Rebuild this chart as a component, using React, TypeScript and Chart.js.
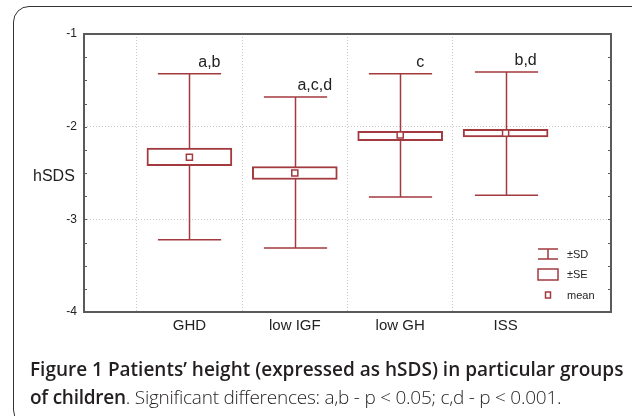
import React, { useEffect, useRef } from "react";
import { Chart, registerables } from "chart.js";

Chart.register(...registerables);

const categories = ["GHD", "low IGF", "low GH", "ISS"];
const means = [-2.33, -2.5, -2.09, -2.07];
const seLow = [-2.42, -2.57, -2.15, -2.11];
const seHigh = [-2.23, -2.43, -2.05, -2.03];
const sdLow = [-3.22, -3.31, -2.76, -2.74];
const sdHigh = [-1.43, -1.68, -1.43, -1.41];
const sigLabels = ["a,b", "a,c,d", "c", "b,d"];
const yTicks = [-1, -2, -3, -4];
const legendLabels = ["±SD", "±SE", "mean"];

const RED = "#A33A3F";
const FRAME = "#5a5a5a";
const FONT = "'Liberation Sans', Arial, sans-serif";

const boxPlugin = {
  id: "boxPlugin",
  beforeDatasetsDraw(chart: any) {
    const { ctx, scales } = chart;
    const xs = scales.x;
    const ys = scales.y;
    const capHalf = xs.getPixelForValue(1.3) - xs.getPixelForValue(1);
    ctx.save();
    ctx.strokeStyle = RED;
    ctx.lineWidth = 1.5;
    categories.forEach((_, i) => {
      const x = Math.round(xs.getPixelForValue(i + 1)) + 0.5;
      const yt = ys.getPixelForValue(sdHigh[i]);
      const yb = ys.getPixelForValue(sdLow[i]);
      ctx.beginPath();
      ctx.moveTo(x, yt);
      ctx.lineTo(x, yb);
      ctx.moveTo(x - capHalf, yt);
      ctx.lineTo(x + capHalf, yt);
      ctx.moveTo(x - capHalf, yb);
      ctx.lineTo(x + capHalf, yb);
      ctx.stroke();
    });
    ctx.restore();
  },
  afterDatasetsDraw(chart: any) {
    const { ctx, scales, chartArea } = chart;
    const xs = scales.x;
    const ys = scales.y;
    ctx.save();
    // annotation labels
    ctx.fillStyle = "#222";
    ctx.font = `16px ${FONT}`;
    ctx.textAlign = "center";
    ctx.textBaseline = "middle";
    sigLabels.forEach((t, i) => {
      const x = xs.getPixelForValue(i + 1) + 20;
      const y = ys.getPixelForValue(sdHigh[i]) - 11;
      ctx.fillText(t, x, y);
    });
    // frame
    ctx.strokeStyle = FRAME;
    ctx.lineWidth = 2;
    ctx.strokeRect(chartArea.left, chartArea.top, chartArea.right - chartArea.left, chartArea.bottom - chartArea.top);
    // minor ticks
    ctx.lineWidth = 1;
    for (let v = -4; v <= -1.001; v += 0.25) {
      const y = Math.round(ys.getPixelForValue(v)) + 0.5;
      ctx.beginPath();
      ctx.moveTo(chartArea.left, y);
      ctx.lineTo(chartArea.left + 3, y);
      ctx.moveTo(chartArea.right, y);
      ctx.lineTo(chartArea.right - 3, y);
      ctx.stroke();
    }
    // legend
    const lx = chartArea.right - 73;
    const ly = chartArea.bottom - 58;
    ctx.strokeStyle = RED;
    ctx.lineWidth = 1.5;
    ctx.beginPath();
    ctx.moveTo(lx, ly - 5);
    ctx.lineTo(lx + 20, ly - 5);
    ctx.moveTo(lx, ly + 5);
    ctx.lineTo(lx + 20, ly + 5);
    ctx.moveTo(lx + 10, ly - 5);
    ctx.lineTo(lx + 10, ly + 5);
    ctx.stroke();
    ctx.strokeRect(lx, ly + 15, 20, 11);
    ctx.fillStyle = "#fff";
    ctx.fillRect(lx + 7.5, ly + 38, 5, 6);
    ctx.strokeRect(lx + 7.5, ly + 38, 5, 6);
    ctx.fillStyle = "#222";
    ctx.font = `11px ${FONT}`;
    ctx.textAlign = "left";
    ctx.textBaseline = "middle";
    ctx.fillText(legendLabels[0], lx + 29, ly + 1);
    ctx.fillText(legendLabels[1], lx + 29, ly + 21);
    ctx.fillText(legendLabels[2], lx + 29, ly + 42);
    ctx.restore();
  },
};

export default function App() {
  const ref = useRef<HTMLCanvasElement>(null);
  useEffect(() => {
    if (!ref.current) return;
    const chart = new Chart(ref.current, {
      type: "bar",
      data: {
        datasets: [
          {
            type: "scatter",
            data: categories.map((_, i) => ({ x: i + 1, y: means[i] })),
            pointStyle: "rect",
            pointRadius: 4.3,
            pointBorderWidth: 1.5,
            pointBackgroundColor: "#fff",
            pointBorderColor: RED,
            order: 0,
          } as any,
          {
            type: "bar",
            data: categories.map((_, i) => ({ x: i + 1, y: [seLow[i], seHigh[i]] })),
            backgroundColor: "#fff",
            borderColor: RED,
            borderWidth: 2,
            borderSkipped: false,
            barThickness: 85,
            grouped: false,
            order: 1,
          } as any,
        ],
      },
      options: {
        responsive: false,
        animation: false,
        events: [],
        layout: { padding: { top: 34, right: 21, left: 0, bottom: 0 } },
        plugins: { legend: { display: false }, tooltip: { enabled: false } },
        scales: {
          x: {
            type: "linear",
            min: 0,
            max: 5,
            offset: false,
            afterFit: (s: any) => {
              s.height = 104;
            },
            afterBuildTicks: (s: any) => {
              s.ticks = [0, 1, 2, 3, 4, 5].map((v) => ({ value: v }));
            },
            ticks: {
              padding: 5,
              color: "#222",
              font: { family: FONT, size: 15 },
              callback: (v: any) => categories[Number(v) - 1] ?? "",
              maxRotation: 0,
              autoSkip: false,
            },
            grid: {
              drawTicks: false,
              color: (c: any) => (c.tick && (c.tick.value === 0 || c.tick.value === 5) ? "rgba(0,0,0,0)" : "#c8c8c8"),
              lineWidth: 1,
            },
            border: { display: false, dash: [1, 2] },
          },
          y: {
            min: -4,
            max: -1,
            afterFit: (s: any) => {
              s.width = 84;
            },
            afterBuildTicks: (s: any) => {
              s.ticks = yTicks.map((v) => ({ value: v }));
            },
            ticks: {
              padding: 7,
              color: "#222",
              font: { family: FONT, size: 12 },
            },
            grid: {
              drawTicks: false,
              color: (c: any) => (c.tick && (c.tick.value === -1 || c.tick.value === -4) ? "rgba(0,0,0,0)" : "#c8c8c8"),
              lineWidth: 1,
            },
            border: { display: false, dash: [1, 2] },
          },
        },
      } as any,
      plugins: [boxPlugin],
    });
    return () => chart.destroy();
  }, []);

  return (
    <div style={{ position: "fixed", left: 0, top: 0, width: 632, height: 416, background: "#fff", overflow: "hidden" }}>
      <div
        style={{
          position: "absolute",
          left: 13,
          top: 6,
          width: 660,
          height: 420,
          border: "1.5px solid #333",
          borderRadius: 16,
          boxSizing: "border-box",
        }}
      />
      <canvas ref={ref} width={632} height={416} style={{ position: "absolute", left: 0, top: 0 }} />
      <span
        style={{
          position: "absolute",
          left: 33,
          top: 167,
          fontFamily: FONT,
          fontSize: 16,
          lineHeight: "18px",
          color: "#222",
        }}
      >
        hSDS
      </span>
      <div
        style={{
          position: "absolute",
          left: 30,
          top: 355,
          width: 600,
          fontFamily: "'Open Sans', sans-serif",
          fontSize: 19,
          lineHeight: "28px",
          color: "#231f20",
          whiteSpace: "nowrap",
        }}
      >
        <div style={{ fontWeight: 600 }}>Figure 1 Patients’ height (expressed as hSDS) in particular groups</div>
        <div style={{ letterSpacing: "-0.25px" }}>
          <span style={{ fontWeight: 600 }}>of children</span>
          <span style={{ fontWeight: 300 }}>. Significant differences: a,b - p &lt; 0.05; c,d - p &lt; 0.001.</span>
        </div>
      </div>
    </div>
  );
}
